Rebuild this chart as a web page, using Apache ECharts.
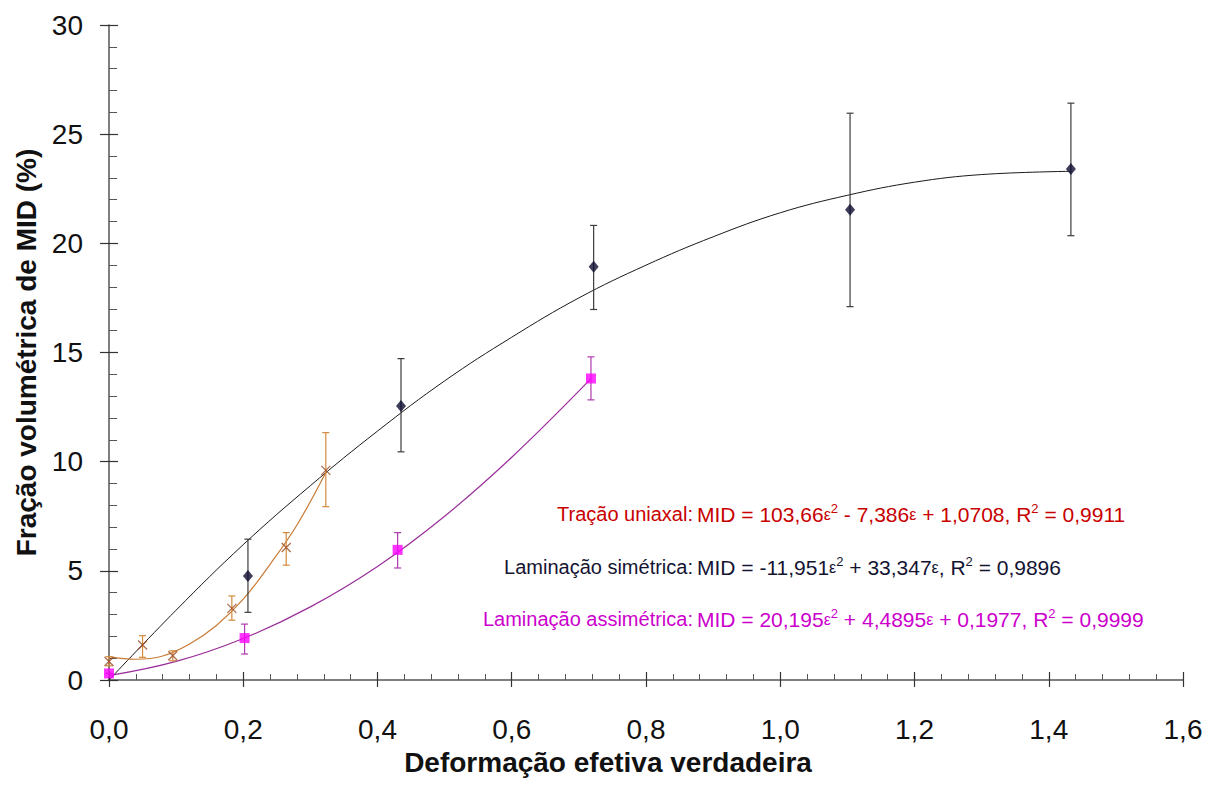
<!DOCTYPE html>
<html>
<head>
<meta charset="utf-8">
<script src="https://cdn.jsdelivr.net/npm/echarts@6/dist/echarts.min.js"></script>
<style>html,body{margin:0;padding:0;background:#fff;}#c{width:1212px;height:785px;}</style>
</head>
<body>
<div id="c"></div>
<script>
// ---- data ----
const xTicks = ['0,0','0,2','0,4','0,6','0,8','1,0','1,2','1,4','1,6'];
const yTicks = ['0','5','10','15','20','25','30'];

// Laminação simétrica (black diamonds)
const simX  = [0.207, 0.435, 0.722, 1.104, 1.433];
const simY  = [4.76, 12.55, 18.93, 21.54, 23.40];
const simLo = [3.10, 10.45, 16.97, 17.10, 20.35];
const simHi = [6.45, 14.72, 20.82, 25.96, 26.42];
const simCurveX = [0, 0.1, 0.2, 0.3, 0.4, 0.5, 0.6, 0.7, 0.8, 0.9, 1.0, 1.1, 1.2, 1.3, 1.433];
const simCurveY = [0, 3.2, 6.2, 8.9, 11.4, 13.7, 15.7, 17.5, 19.0, 20.3, 21.4, 22.2, 22.8, 23.15, 23.3];

// Tração uniaxal (orange x)
const tracX  = [0, 0.050, 0.095, 0.183, 0.264, 0.323];
const tracY  = [0.85, 1.60, 1.11, 3.28, 6.07, 9.60];
const tracLo = [0.65, 1.04, 0.88, 2.74, 5.26, 7.94];
const tracHi = [1.07, 2.03, 1.34, 3.85, 6.75, 11.33];
const tracCurveX = [0, 0.04, 0.08, 0.12, 0.16, 0.2, 0.24, 0.28, 0.323];
const tracCurveY = [1.07, 0.95, 1.1, 1.65, 2.5, 3.7, 5.3, 7.1, 9.5];

// Laminação assimétrica (magenta squares)
const asimX  = [0, 0.202, 0.430, 0.718];
const asimY  = [0.30, 1.92, 5.96, 13.81];
const asimLo = [0.30, 1.19, 5.13, 12.83];
const asimHi = [0.30, 2.56, 6.75, 14.80];
const asimCurveX = [0, 0.1, 0.2, 0.3, 0.4, 0.5, 0.6, 0.718];
const asimCurveY = [0.2, 0.85, 1.9, 3.35, 5.2, 7.5, 10.2, 13.8];

// ---- chart ----
const zip = (a, b) => a.map((v, i) => [v, b[i]]);
const zip3 = (a, b, c) => a.map((v, i) => [v, b[i], c[i]]);

function errBar(color) {
  return function (params, api) {
    const x = api.value(0), lo = api.value(1), hi = api.value(2);
    const p1 = api.coord([x, lo]), p2 = api.coord([x, hi]);
    const w = 3.5;
    const st = { stroke: color, lineWidth: 1.2 };
    return {
      type: 'group',
      children: [
        { type: 'line', shape: { x1: p1[0], y1: p1[1], x2: p2[0], y2: p2[1] }, style: st },
        { type: 'line', shape: { x1: p1[0] - w, y1: p1[1], x2: p1[0] + w, y2: p1[1] }, style: st },
        { type: 'line', shape: { x1: p2[0] - w, y1: p2[1], x2: p2[0] + w, y2: p2[1] }, style: st }
      ]
    };
  };
}

const FONT = 'Liberation Sans, Arial, sans-serif';
const gridBox = { left: 109, right: 29, top: 25, bottom: 105, outerBoundsMode: 'none' };

const chart = echarts.init(document.getElementById('c'), null, { renderer: 'svg' });

const eqBase = { fontSize: 20, fontFamily: FONT };
function eqRich(fill) {
  return {
    e: { fontSize: 16, fill: fill, fontFamily: FONT },
    s: { fontSize: 13, fill: fill, fontFamily: FONT, padding: [0, 0, 11, 0] },
    n: { fontSize: 21, fill: fill, fontFamily: FONT }
  };
}
const redC = '#c80000', navyC = '#141432', magC = '#cc00cc';

chart.setOption({
  animation: false,
  backgroundColor: '#fff',
  grid: [Object.assign({}, gridBox), Object.assign({}, gridBox)],
  xAxis: [{
    type: 'value', min: 0, max: 1.6, interval: 0.2, gridIndex: 0,
    axisLine: { show: true, lineStyle: { color: '#555', width: 1.5 } },
    axisTick: { show: true, inside: true, length: 8, lineStyle: { color: '#333', width: 1.2 } },
    minorTick: { show: true, splitNumber: 5, length: 6, lineStyle: { color: '#555', width: 1 } },
    splitLine: { show: false },
    axisLabel: {
      margin: 35, fontSize: 28, color: '#111', fontFamily: FONT,
      formatter: (v) => xTicks[Math.round(v / 0.2)]
    }
  }, {
    type: 'value', min: 0, max: 1.6, interval: 0.2, gridIndex: 1,
    axisLine: { show: false },
    axisTick: { show: true, inside: false, length: 7, lineStyle: { color: '#333', width: 1.2 } },
    splitLine: { show: false }, axisLabel: { show: false }
  }],
  yAxis: [{
    type: 'value', min: 0, max: 30, interval: 5, gridIndex: 0,
    name: 'Fração volumétrica de MID (%)', nameLocation: 'middle', nameGap: 65,
    nameTextStyle: { fontSize: 28, fontWeight: 'bold', color: '#111', fontFamily: FONT },
    axisLine: { show: true, lineStyle: { color: '#555', width: 1.5 } },
    axisTick: { show: true, inside: true, length: 9, lineStyle: { color: '#333', width: 1.2 } },
    minorTick: { show: true, splitNumber: 5, length: 8, lineStyle: { color: '#555', width: 1 } },
    splitLine: { show: false },
    axisLabel: {
      margin: 26, fontSize: 28, color: '#111', fontFamily: FONT,
      formatter: (v) => yTicks[Math.round(v / 5)]
    }
  }, {
    type: 'value', min: 0, max: 30, interval: 5, gridIndex: 1,
    axisLine: { show: false },
    axisTick: { show: true, inside: false, length: 9, lineStyle: { color: '#333', width: 1.2 } },
    splitLine: { show: false }, axisLabel: { show: false }
  }],
  graphic: [
    { type: 'text', x: 608, y: 762, style: { text: 'Deformação efetiva verdadeira', align: 'center', verticalAlign: 'middle', fontSize: 28, fontWeight: 'bold', fill: '#111', fontFamily: FONT } },

    { type: 'text', x: 693, y: 514, style: Object.assign({ text: 'Tração uniaxal:', align: 'right', verticalAlign: 'middle', fill: redC }, eqBase) },
    { type: 'text', x: 697, y: 514, style: Object.assign({ text: '{n|MID = 103,66}{e|ε}{s|2}{n| - 7,386}{e|ε}{n| + 1,0708, R}{s|2}{n| = 0,9911}', align: 'left', verticalAlign: 'middle', fill: redC, rich: eqRich(redC) }, eqBase) },

    { type: 'text', x: 693, y: 567, style: Object.assign({ text: 'Laminação simétrica:', align: 'right', verticalAlign: 'middle', fill: navyC }, eqBase) },
    { type: 'text', x: 697, y: 567, style: Object.assign({ text: '{n|MID = -11,951}{e|ε}{s|2}{n| + 33,347}{e|ε}{n|, R}{s|2}{n| = 0,9896}', align: 'left', verticalAlign: 'middle', fill: navyC, rich: eqRich(navyC) }, eqBase) },

    { type: 'text', x: 693, y: 619, style: Object.assign({ text: 'Laminação assimétrica:', align: 'right', verticalAlign: 'middle', fill: magC }, eqBase) },
    { type: 'text', x: 697, y: 619, style: Object.assign({ text: '{n|MID = 20,195}{e|ε}{s|2}{n| + 4,4895}{e|ε}{n| + 0,1977, R}{s|2}{n| = 0,9999}', align: 'left', verticalAlign: 'middle', fill: magC, rich: eqRich(magC) }, eqBase) }
  ],
  series: [
    { type: 'line', data: zip(simCurveX, simCurveY), smooth: 0.4, showSymbol: false, lineStyle: { color: '#1a1a1a', width: 1 }, z: 2 },
    { type: 'line', data: zip(tracCurveX, tracCurveY), smooth: 0.4, showSymbol: false, lineStyle: { color: '#c97a35', width: 1.2 }, z: 2 },
    { type: 'line', data: zip(asimCurveX, asimCurveY), smooth: 0.4, showSymbol: false, lineStyle: { color: '#9a2e9a', width: 1.2 }, z: 2 },

    { type: 'custom', data: zip3(simX, simLo, simHi), renderItem: errBar('#3c3c3c'), z: 3 },
    { type: 'custom', data: zip3(tracX, tracLo, tracHi), renderItem: errBar('#d48a3c'), z: 3 },
    { type: 'custom', data: zip3(asimX, asimLo, asimHi), renderItem: errBar('#b03ab0'), z: 3 },

    { type: 'scatter', data: zip(simX, simY), symbol: 'diamond', symbolSize: [10, 12], itemStyle: { color: '#0d0d30' }, z: 4 },
    { type: 'scatter', data: zip(tracX, tracY), symbol: 'path://M0,0L10,10M10,0L0,10', symbolSize: 9, itemStyle: { color: 'transparent', borderColor: '#9a4a22', borderWidth: 1.3 }, z: 4 },
    { type: 'scatter', data: zip(asimX, asimY), symbol: 'rect', symbolSize: 10, itemStyle: { color: '#ff00ff' }, z: 4 }
  ]
});
</script>
</body>
</html>
